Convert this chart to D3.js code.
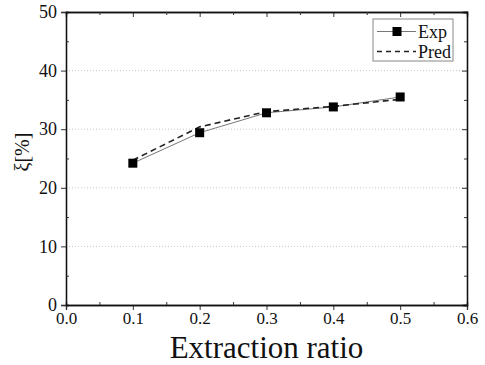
<!DOCTYPE html>
<html>
<head>
<meta charset="utf-8">
<script src="https://cdn.jsdelivr.net/npm/d3@7"></script>
<style>
  body { margin: 0; background: #fff; }
  svg { display: block; }
</style>
</head>
<body>
<svg id="chart" width="485" height="365"></svg>
<script>
// data
const ratios = [0.1, 0.2, 0.3, 0.4, 0.5];
const expVals = [24.2, 29.4, 32.8, 33.8, 35.5];
const predVals = [24.7, 30.4, 33.0, 33.9, 35.1];
const xTicks = [0, 0.1, 0.2, 0.3, 0.4, 0.5, 0.6];
const yTicks = [0, 10, 20, 30, 40, 50];
const gridVals = [10, 20, 30, 40];

const margin = {top: 12, right: 18, bottom: 60, left: 66};
const width = 485 - margin.left - margin.right;
const height = 365 - margin.top - margin.bottom;
const serif = "Liberation Serif";

const svg = d3.select("#chart");
const g = svg.append("g").attr("transform", `translate(${margin.left},${margin.top})`);

const x = d3.scaleLinear().domain([0, 0.6]).range([0, width]);
const y = d3.scaleLinear().domain([0, 50]).range([height, 0]);

// dotted grid
g.selectAll(".grid").data(gridVals).join("line")
  .attr("x1", 0).attr("x2", width)
  .attr("y1", d => y(d)).attr("y2", d => y(d))
  .attr("stroke", "#c8c8c8").attr("stroke-width", 1)
  .attr("stroke-dasharray", "1,2");

// minor tick positions
const xMinor = d3.range(0.05, 0.6, 0.1);
const yMinor = d3.range(5, 50, 10);

// bottom axis
const xAxis = g.append("g").attr("transform", `translate(0,${height})`)
  .call(d3.axisBottom(x).tickValues(xTicks).tickFormat(d3.format(".1f")).tickSize(5).tickPadding(2));
xAxis.attr("font-family", null);
xAxis.selectAll("text").style("font-family", serif).style("font-size", "17px").attr("fill", "#111");

// left axis
const yAxis = g.append("g")
  .call(d3.axisLeft(y).tickValues(yTicks).tickFormat(d3.format("d")).tickSize(5).tickPadding(4));
yAxis.attr("font-family", null);
yAxis.selectAll("text").style("font-family", serif).style("font-size", "18px").attr("fill", "#111");

// top and right axes, ticks inward
g.append("g").call(d3.axisTop(x).tickValues(xTicks).tickSize(-5).tickFormat(""));
g.append("g").attr("transform", `translate(${width},0)`)
  .call(d3.axisRight(y).tickValues(yTicks).tickSize(-5).tickFormat(""));

// minor ticks, inward on all sides
g.append("g").attr("transform", `translate(0,${height})`)
  .call(d3.axisBottom(x).tickValues(xMinor).tickSize(-3).tickFormat(""));
g.append("g").call(d3.axisTop(x).tickValues(xMinor).tickSize(-3).tickFormat(""));
g.append("g").call(d3.axisLeft(y).tickValues(yMinor).tickSize(-3).tickFormat(""));
g.append("g").attr("transform", `translate(${width},0)`)
  .call(d3.axisRight(y).tickValues(yMinor).tickSize(-3).tickFormat(""));

g.selectAll(".domain").attr("stroke", "#111").attr("stroke-width", 1.3);
g.selectAll(".tick line").attr("stroke", "#333").attr("stroke-width", 1);

// lines
const expLine = d3.line().x((d, i) => x(ratios[i])).y(d => y(d));
g.append("path").datum(expVals)
  .attr("d", expLine).attr("fill", "none")
  .attr("stroke", "#777").attr("stroke-width", 1);
g.append("path").datum(predVals)
  .attr("d", expLine).attr("fill", "none")
  .attr("stroke", "#222").attr("stroke-width", 1.6)
  .attr("stroke-dasharray", "6,4");

const sq = 9;
g.selectAll(".pt").data(expVals).join("rect")
  .attr("x", (d, i) => x(ratios[i]) - sq / 2)
  .attr("y", d => y(d) - sq / 2)
  .attr("width", sq).attr("height", sq)
  .attr("fill", "#000");

// legend
const lg = svg.append("g").attr("transform", "translate(373,19)");
lg.append("rect").attr("width", 80).attr("height", 42)
  .attr("fill", "#fff").attr("stroke", "#888").attr("stroke-width", 1);
lg.append("line").attr("x1", 4).attr("x2", 43).attr("y1", 12.5).attr("y2", 12.5)
  .attr("stroke", "#777").attr("stroke-width", 1);
lg.append("rect").attr("x", 24 - sq / 2).attr("y", 12.5 - sq / 2)
  .attr("width", sq).attr("height", sq).attr("fill", "#000");
lg.append("line").attr("x1", 4).attr("x2", 43).attr("y1", 32.5).attr("y2", 32.5)
  .attr("stroke", "#222").attr("stroke-width", 1.4).attr("stroke-dasharray", "5,4");
lg.append("text").attr("x", 45).attr("y", 18.5).style("font-family", serif).style("font-size", "18px").attr("fill", "#111").text("Exp");
lg.append("text").attr("x", 45).attr("y", 38.5).style("font-family", serif).style("font-size", "18px").attr("fill", "#111").text("Pred");

// axis titles
svg.append("text")
  .attr("x", margin.left + width / 2).attr("y", 358)
  .attr("text-anchor", "middle").style("font-family", serif).style("font-size", "31px").attr("fill", "#111")
  .text("Extraction ratio");
svg.append("text")
  .attr("transform", "translate(29,152) rotate(-90)")
  .attr("text-anchor", "middle").style("font-family", serif).style("font-size", "20px").attr("fill", "#111")
  .text("ξ[%]");
</script>
</body>
</html>
